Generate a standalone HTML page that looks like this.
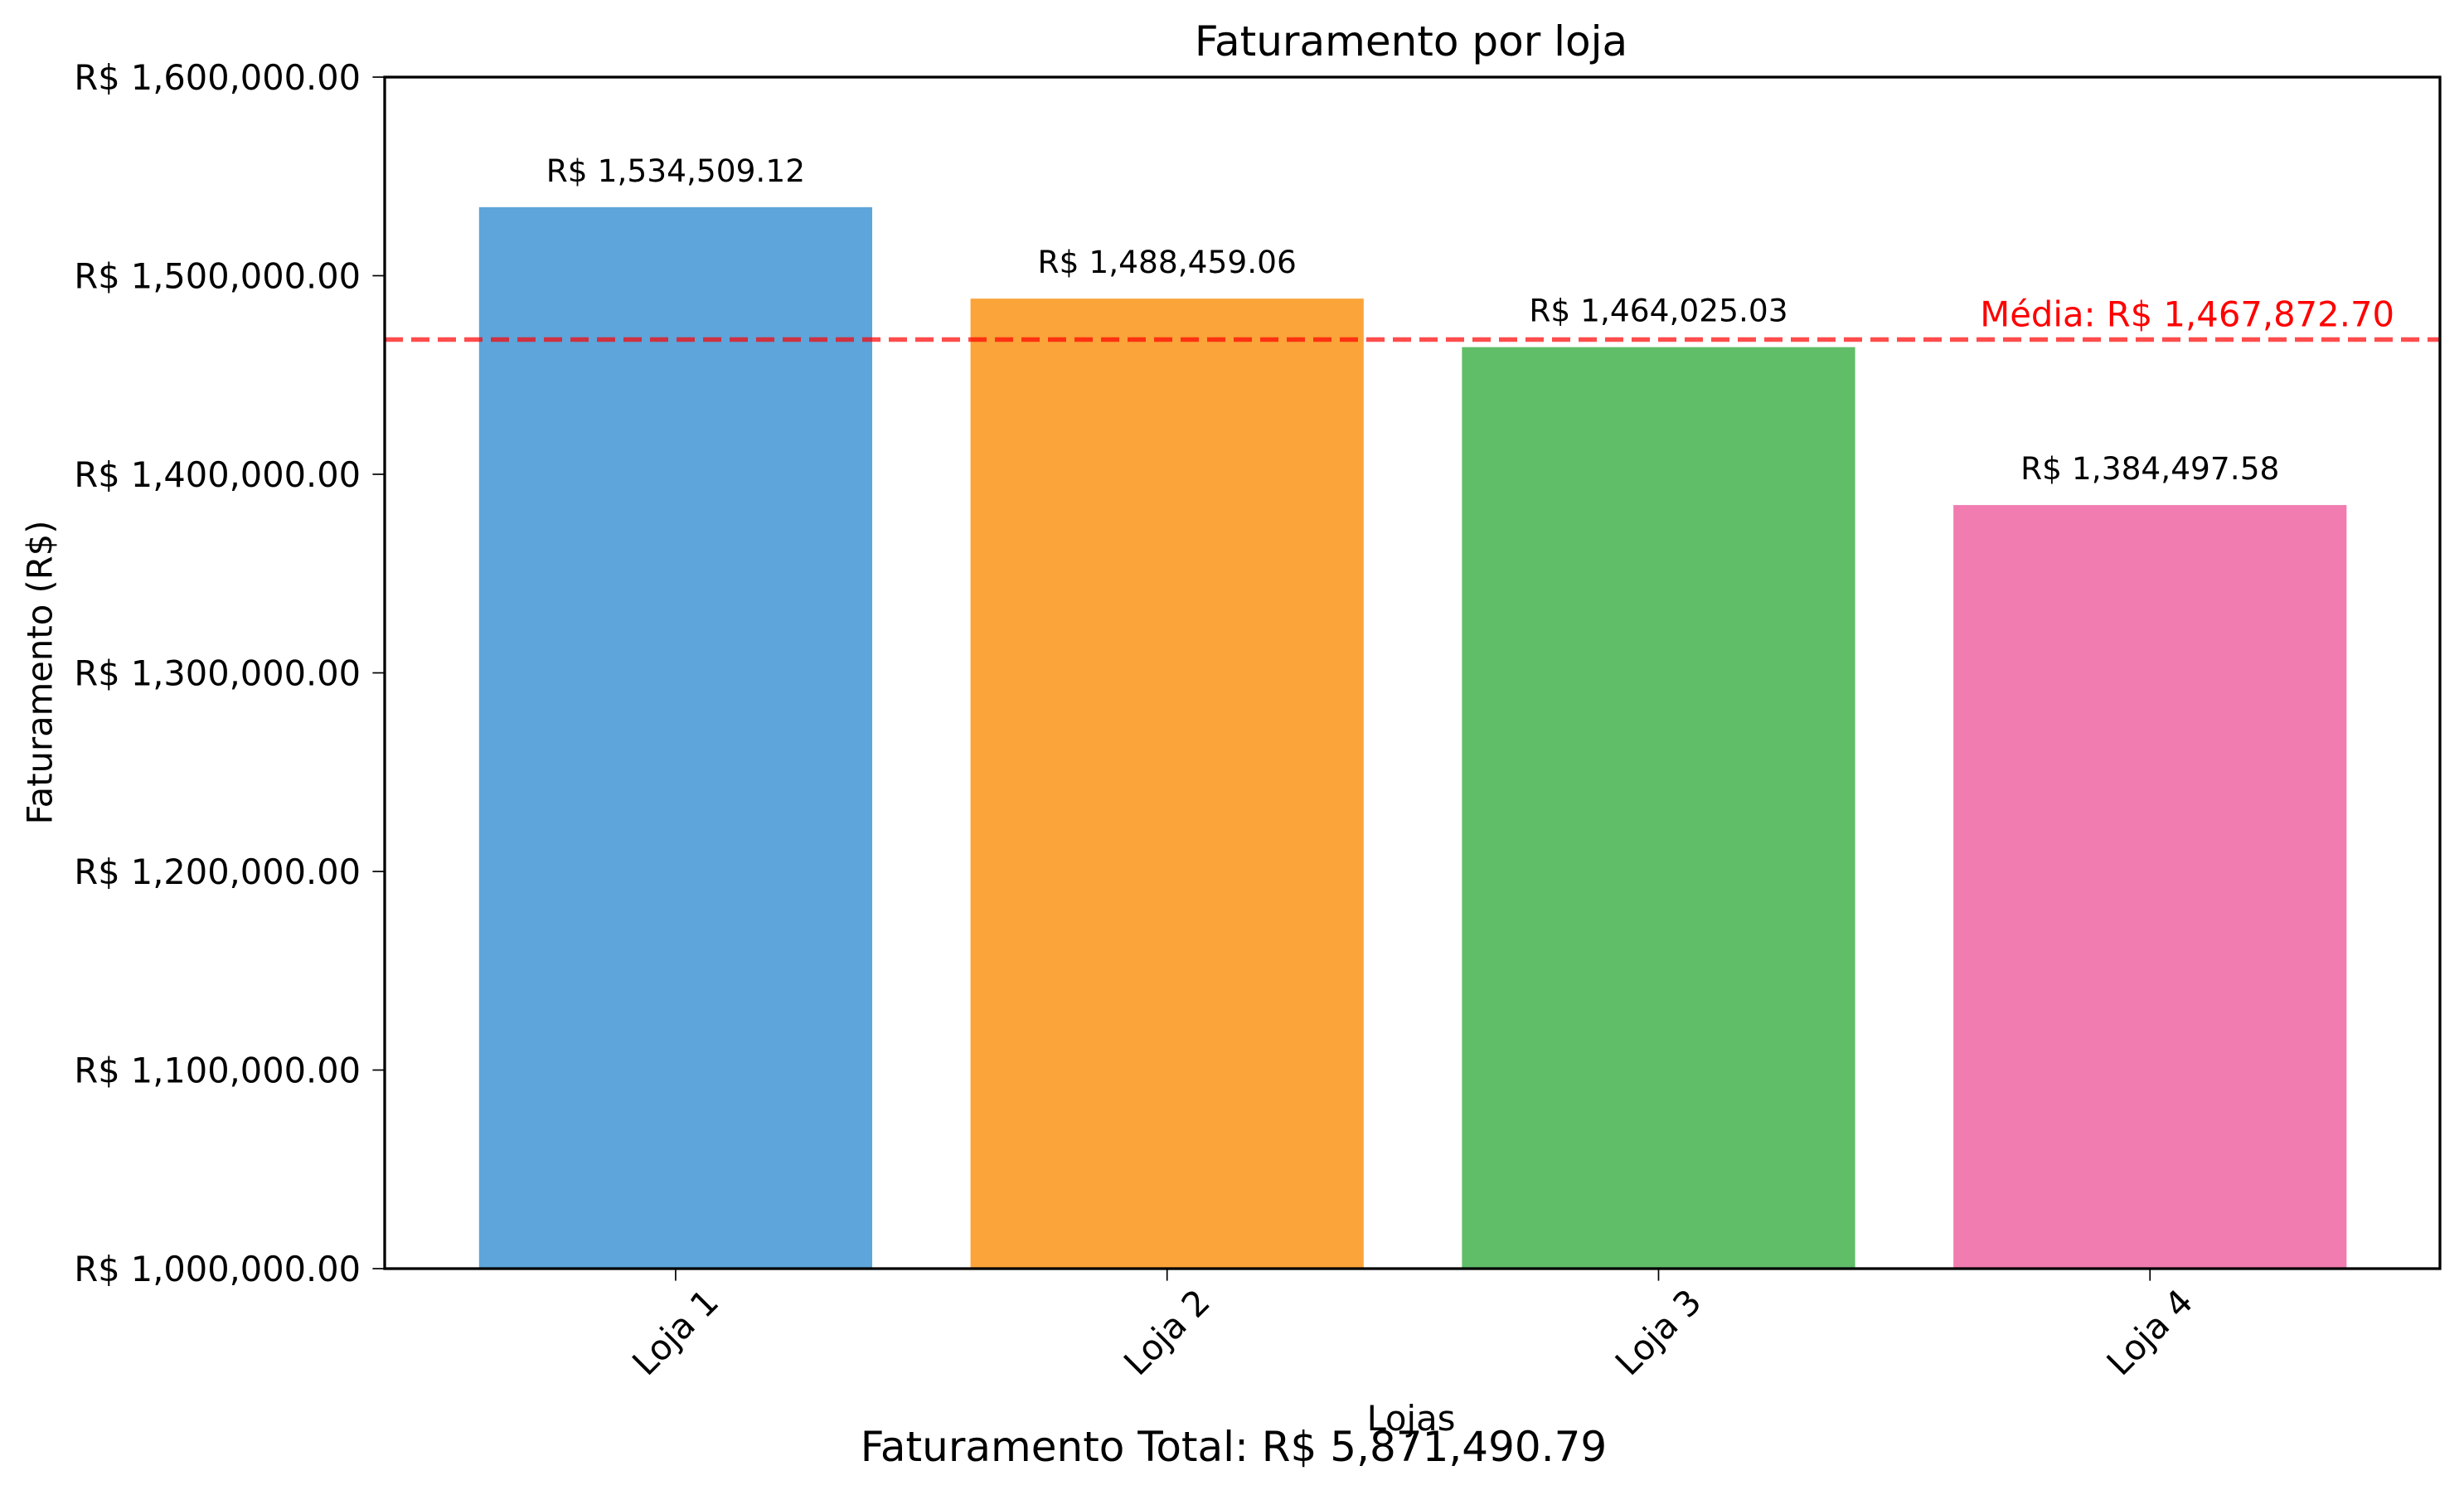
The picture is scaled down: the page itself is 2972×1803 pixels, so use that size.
<!DOCTYPE html>
<html><head><meta charset="utf-8"><style>
html,body{margin:0;padding:0;background:#fff;}
svg{display:block;font-family:"DejaVu Sans","Liberation Sans",sans-serif;}
</style></head><body>
<svg id="chart" width="2972" height="1803" viewBox="0 0 2972 1803" xmlns="http://www.w3.org/2000/svg"></svg>
<script>
const categories = ["Loja 1","Loja 2","Loja 3","Loja 4"];
const revenues = [1534509.12, 1488459.06, 1464025.03, 1384497.58];
const barLabels = ["R$ 1,534,509.12","R$ 1,488,459.06","R$ 1,464,025.03","R$ 1,384,497.58"];
const colors = ["#5DA5DA","#FAA43A","#60BD68","#F17CB0"];
const yTicks = [1000000,1100000,1200000,1300000,1400000,1500000,1600000];
const yTickLabels = ["R$ 1,000,000.00","R$ 1,100,000.00","R$ 1,200,000.00","R$ 1,300,000.00","R$ 1,400,000.00","R$ 1,500,000.00","R$ 1,600,000.00"];
const meanValue = 1467872.70;
const meanLabel = "Média: R$ 1,467,872.70";
const totalLabel = "Faturamento Total: R$ 5,871,490.79";

const NS="http://www.w3.org/2000/svg";
const svg=document.getElementById('chart');
const L=464,R=2943,T=93,B=1530;
const yMin=1000000,yMax=1600000;
const xMin=-0.592,xMax=3.59;
function xs(i){return L+(i-xMin)/(xMax-xMin)*(R-L);}
function ys(v){return B-(v-yMin)/(yMax-yMin)*(B-T);}
const unit=(R-L)/(xMax-xMin);
function mk(tag,attrs,parent){const e=document.createElementNS(NS,tag);for(const k in attrs)e.setAttribute(k,attrs[k]);(parent||svg).appendChild(e);return e;}

categories.forEach((c,i)=>{
  const y=ys(revenues[i]);
  const r=mk('rect',{x:xs(i)-0.4*unit,y:y,width:0.8*unit,height:B-y,fill:colors[i]});
  
  
  const t=mk('text',{x:xs(i),y:y-31,'text-anchor':'middle','font-size':37.5,fill:'#000'});
  t.textContent=barLabels[i];
  
  
  const tk=mk('line',{x1:xs(i),x2:xs(i),y1:B,y2:B+14.6,stroke:'#000','stroke-width':1.7});
  
  
  const cx=xs(i),cy=1607;
  const xl=mk('text',{x:cx,y:cy+14,'text-anchor':'middle','font-size':41.7,fill:'#000',transform:`rotate(-45 ${cx} ${cy})`});
  xl.textContent=c;
  
  
});

const my=ys(meanValue);
const ml=mk('line',{x1:L,x2:R,y1:my,y2:my,stroke:'#ff0000','stroke-opacity':0.7,'stroke-width':5.5,'stroke-dasharray':'22 10'});


const mt=mk('text',{x:2888,y:my-16,'text-anchor':'end','font-size':41.7,fill:'#ff0000'});
mt.textContent=meanLabel;



yTicks.forEach((v,i)=>{
  const y=ys(v);
  const tk=mk('line',{x1:L-14.6,x2:L,y1:y,y2:y,stroke:'#000','stroke-width':1.7});
  
  
  const t=mk('text',{x:435,y:y+15,'text-anchor':'end','font-size':41.5,fill:'#000'});
  t.textContent=yTickLabels[i];
  
  
});

const fr=mk('rect',{x:L,y:T,width:R-L,height:B-T,fill:'none',stroke:'#000','stroke-width':3.3});



const title=mk('text',{x:1702,y:67,'text-anchor':'middle','font-size':50,fill:'#000'});
title.textContent="Faturamento por loja";



const xt=mk('text',{x:1702,y:1725,'text-anchor':'middle','font-size':41.7,fill:'#000'});
xt.textContent="Lojas";



const yt=mk('text',{x:48,y:811,'text-anchor':'middle','dominant-baseline':'central','font-size':41.7,fill:'#000',transform:'rotate(-90 48 811)'});
yt.textContent="Faturamento (R$)";



const ft=mk('text',{x:1488,y:1762,'text-anchor':'middle','font-size':50,fill:'#000'});
ft.textContent=totalLabel;


</script>
</body></html>
